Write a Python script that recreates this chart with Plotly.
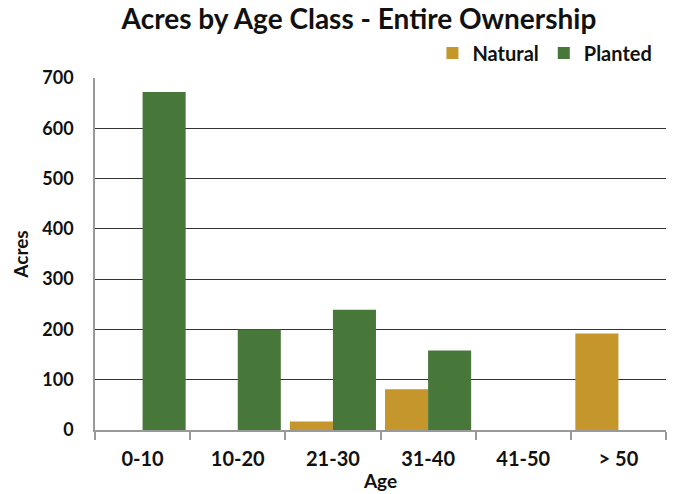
import plotly.graph_objects as go

categories = ["0-10", "10-20", "21-30", "31-40", "41-50", "> 50"]
natural = [0, 0, 17, 81, 0, 192]
planted = [672, 200, 239, 158, 0, 0]

FONT = "Lato"
fig = go.Figure()
fig.add_trace(go.Bar(name="<b>Natural</b>", x=categories, y=natural,
                     marker=dict(color="#c4962b", line=dict(width=0))))
fig.add_trace(go.Bar(name="<b>Planted</b>", x=categories, y=planted,
                     marker=dict(color="#48773a", line=dict(width=0))))

fig.update_layout(
    width=676, height=494,
    margin=dict(l=95, r=10, t=78, b=64, autoexpand=False),
    paper_bgcolor="white", plot_bgcolor="white",
    barmode="group", bargap=0.095, bargroupgap=0,
    font=dict(family=FONT, color="#111", size=18),
    title=dict(text="<b>Acres by Age Class - Entire Ownership</b>",
               x=0.531, xanchor="center", y=0.962, yanchor="middle",
               font=dict(size=28, family=FONT, color="#111")),
    legend=dict(orientation="h", x=0.985, xanchor="right", y=1.071, yanchor="middle",
                font=dict(size=20, family=FONT, color="#111"), itemwidth=30,
                traceorder="normal", bgcolor="rgba(0,0,0,0)"),
    showlegend=True,
)
fig.update_xaxes(
    automargin=False,
    showline=True, linecolor="#999", linewidth=1.5,
    ticks="outside", tickson="boundaries", ticklen=8, tickcolor="#999", tickwidth=1.5,
    tickfont=dict(size=20, family=FONT, color="#111"),
    tickprefix="<b>", ticksuffix="</b>", ticklabelstandoff=10,
    title=dict(text="<b>Age</b>", font=dict(size=19, family=FONT), standoff=6),
    showgrid=False,
)
fig.update_yaxes(
    automargin=False,
    range=[0, 700], dtick=100,
    showline=True, linecolor="#999", linewidth=1.5,
    showgrid=True, gridcolor="#333", gridwidth=1,
    ticks="", ticklabelstandoff=16,
    tickfont=dict(size=18, family=FONT, color="#111"),
    tickprefix="<b>", ticksuffix="</b>",
    title=dict(text="<b>Acres</b>", font=dict(size=19, family=FONT), standoff=9),
    zeroline=False,
)
fig.write_html("out.html", config={"displayModeBar": False},
               post_script="document.body.style.margin='0px';")
